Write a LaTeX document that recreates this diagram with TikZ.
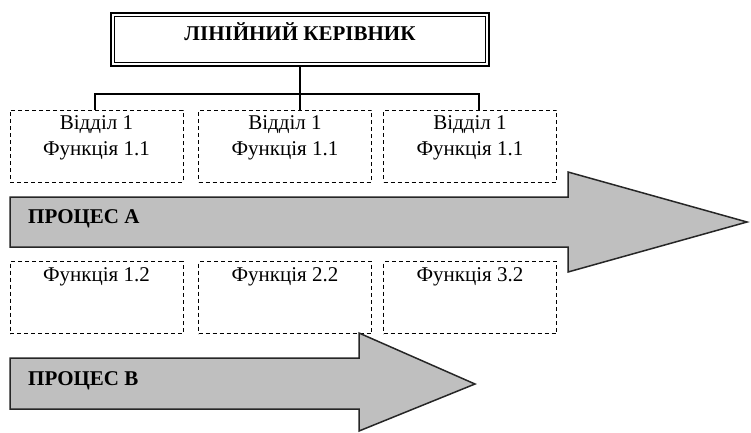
\documentclass[tikz,border=0pt]{standalone}
\usepackage{fontspec}
\setmainfont{Liberation Serif}
\begin{document}
\begin{tikzpicture}[x=1pt,y=-1pt,
  dept/.style={draw=black, dash pattern=on 4pt off 3pt, line width=1pt,
    minimum width=173pt, minimum height=72pt, inner sep=0pt},
  txt/.style={inner sep=0pt, align=center, font=\fontsize{21}{26}\selectfont},
  head/.style={inner sep=0pt, font=\fontsize{21}{26}\selectfont\bfseries},
  proc/.style={draw=black!85, fill=black!25, line width=1.5pt, line join=miter},
  bus/.style={draw=black, line width=1.1pt}]
\useasboundingbox (0,0) rectangle (751,432);

% head of the structure
\node[draw=black, line width=2.2pt, minimum width=378pt, minimum height=53pt, inner sep=0pt]
  (boss) at (300,39.5) {};
\draw[line width=1.1pt] ([shift={(5pt,-5pt)}]boss.north west) rectangle ([shift={(-5pt,5pt)}]boss.south east);
\node[head, anchor=base] (title) at (300,40.5) {ЛІНІЙНИЙ КЕРІВНИК};

% departments, first row (base anchor sits on the last line)
\node[dept] (d1) at (96.5,146) {};
\node[dept] (d2) at (285,146) {};
\node[dept] (d3) at (470,146) {};
\foreach \i in {1,2,3}
  \node[txt, anchor=base] (t\i) at (d\i.north |- 0,155) {Відділ 1\\Функція 1.1};

% functions, second row
\node[dept] (f1) at (96.5,297.5) {};
\node[dept] (f2) at (285,297.5) {};
\node[dept] (f3) at (470,297.5) {};
\node[txt, anchor=base] (g1) at (f1.north |- 0,281) {Функція 1.2};
\node[txt, anchor=base] (g2) at (f2.north |- 0,281) {Функція 2.2};
\node[txt, anchor=base] (g3) at (f3.north |- 0,281) {Функція 3.2};

% subordination lines
\coordinate (busL) at (95,94);
\coordinate (busR) at (479,94);
\draw[bus] (boss.south) -- (boss.south |- d2.north);
\draw[bus] (busL |- d1.north) -- (busL) -- (busR) -- (busR |- d3.north);

% process arrows
\path[proc] (10,197) -- (568,197) -- (568,172) -- (747,222) -- (568,272)
  -- (568,247) -- (10,247) -- cycle;
\node[head, anchor=base west] (pa) at (28,223.5) {ПРОЦЕС А};

\path[proc] (10,358) -- (359,358) -- (359,333) -- (475,384) -- (359,431)
  -- (359,409) -- (10,409) -- cycle;
\node[head, anchor=base west] (pb) at (28,385) {ПРОЦЕС В};
\end{tikzpicture}
\end{document}
